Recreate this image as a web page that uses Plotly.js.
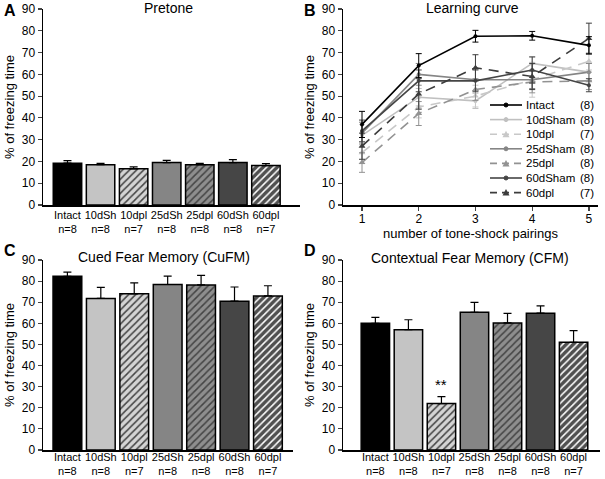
<!DOCTYPE html>
<html><head><meta charset="utf-8">
<script src="https://cdn.plot.ly/plotly-3.0.1.min.js"></script>
<style>html,body{margin:0;padding:0;background:#fff}#chart{width:605px;height:479px}</style>
</head><body><div id="chart"></div>
<script>
// ---- data ----
const groups = ["Intact","10dSh","10dpl","25dSh","25dpl","60dSh","60dpl"];
const groupN = [8,8,7,8,8,8,7];
const pretoneMean = [19.2,18.5,16.6,19.5,18.5,19.5,18.1];
const pretoneSem  = [1.2,0.6,0.9,1.0,0.6,1.3,0.9];
const cufmMean = [82.3,71.8,74.0,78.4,78.2,70.5,73.0];
const cufmSem  = [2.0,5.2,5.2,4.0,4.5,6.7,4.8];
const cfmMean = [60.0,57.0,22.0,65.2,60.2,64.8,51.0];
const cfmSem  = [2.8,4.7,3.3,4.7,4.5,3.5,5.5];

const pairings = [1,2,3,4,5];
const lcNames = ["Intact","10dSham","10dpl","25dSham","25dpl","60dSham","60dpl"];
const lcN = [8,8,7,8,8,8,7];
const lcIntact     = [37.0,64.0,77.5,77.7,73.3];
const lcIntactErr  = [6.0,5.5,2.7,2.0,4.0];
const lc10dSham    = [32.0,49.5,47.8,65.0,61.0];
const lc10dShamErr = [5.0,4.0,3.5,3.0,4.0];
const lc10dpl      = [24.0,45.0,50.0,57.5,66.0];
const lc10dplErr   = [5.0,5.0,5.0,8.0,4.0];
const lc25dSham    = [33.0,60.0,57.5,57.5,61.0];
const lc25dShamErr = [5.0,5.0,5.0,4.0,4.0];
const lc25dpl      = [19.5,42.0,53.0,56.5,57.0];
const lc25dplErr   = [4.5,5.5,5.0,5.0,4.0];
const lc60dSham    = [34.0,57.0,57.0,62.0,55.0];
const lc60dShamErr = [5.0,5.0,5.0,6.0,3.0];
const lc60dpl      = [27.0,51.0,63.0,59.0,76.5];
const lc60dplErr   = [6.0,7.0,6.0,6.0,7.0];

// ---- styles ----
const FONT = "Liberation Sans, Arial, sans-serif";
const barColors = ["#000000","#c4c4c4","#d4d4d4","#858585","#8e8e8e","#464646","#505050"];
const hatchShapes = ["","","/","","/","","/"];
const hatchFg = ["#000000","#000000","#707070","#000000","#2e2e2e","#000000","#111111"];

const tickLabels = groups.map((g,i)=> g + "<br>n=" + groupN[i]);
const zeros = groups.map(()=>0);

function bars(xa, ya, mean, sem){
  return {
    type:'bar', x:groups, y:mean, xaxis:xa, yaxis:ya, width:0.86,
    marker:{color:barColors, line:{color:'#000', width:1.5},
      pattern:{shape:hatchShapes, fgcolor:hatchFg, fgopacity:1, size:5, solidity:0.3, fillmode:'overlay'}},
    error_y:{type:'data', array:sem, arrayminus:zeros, symmetric:false, color:'#000', thickness:1.2, width:4},
    showlegend:false, hoverinfo:'skip'
  };
}

const lcSeries = [
  {y:lc10dSham, e:lc10dShamErr, color:'#c0c0c0', dash:'solid', sym:'circle'},
  {y:lc10dpl,   e:lc10dplErr,   color:'#c8c8c8', dash:'10px,7px', sym:'triangle-up'},
  {y:lc25dSham, e:lc25dShamErr, color:'#858585', dash:'solid', sym:'circle'},
  {y:lc25dpl,   e:lc25dplErr,   color:'#929292', dash:'10px,7px', sym:'triangle-up'},
  {y:lc60dSham, e:lc60dShamErr, color:'#454545', dash:'solid', sym:'circle'},
  {y:lc60dpl,   e:lc60dplErr,   color:'#3c3c3c', dash:'10px,7px', sym:'triangle-up'},
  {y:lcIntact,  e:lcIntactErr,  color:'#000000', dash:'solid', sym:'circle'}
];
const lcOrder = [1,2,3,4,5,6,0]; // index into lcNames

const traces = [
  bars('x','y',pretoneMean,pretoneSem),
  bars('x3','y3',cufmMean,cufmSem),
  bars('x4','y4',cfmMean,cfmSem)
];
lcSeries.forEach((s,k)=>{
  traces.push({type:'scatter', mode:'lines+markers', x:pairings, y:s.y, xaxis:'x2', yaxis:'y2',
    name:lcNames[lcOrder[k]],
    line:{color:s.color, width:1.6, dash:s.dash},
    marker:{color:s.color, symbol:s.sym, size:s.sym==='circle'?4:6},
    error_y:{type:'data', array:s.e, color:s.color, thickness:1, width:3},
    showlegend:false, hoverinfo:'skip'});
});

// ---- layout helpers ----
const W=605, H=479;
const px = v => v/W, py = v => 1 - v/H;

function yax(domain){
  return {domain:domain, range:[0,90], dtick:10, ticks:'outside', ticklen:4, tickwidth:1.2,
    showline:true, linewidth:1.5, linecolor:'#000', showgrid:false, zeroline:false,
    tickfont:{size:12, color:'#000'},
    title:{text:'% of freezing time', font:{size:13, color:'#000'}, standoff:4}};
}
function xcat(domain, range, anchor, tls){
  return {domain:domain, range:range, anchor:anchor, type:'category',
    tickvals:groups, ticktext:tickLabels, ticks:'', showline:true, linewidth:1.5, linecolor:'#000',
    showgrid:false, zeroline:false, tickfont:{size:11, color:'#000'}, ticklabelstandoff:tls};
}

const annotations = [
  {text:'Pretone', x:px(168), y:py(8)},
  {text:'Learning curve', x:px(472), y:py(8)},
  {text:'Cued Fear Memory (CuFM)', x:px(164), y:py(257)},
  {text:'Contextual Fear Memory (CFM)', x:px(470), y:py(258)}
].map(a=>Object.assign(a,{xref:'paper',yref:'paper',showarrow:false,xanchor:'center',yanchor:'middle',font:{size:14,color:'#000'}}));

[['A',2,10],['B',302,10],['C',2,250],['D',302,250]].forEach(([t,x,y])=>{
  annotations.push({text:'<b>'+t+'</b>', x:px(x), y:py(y), xref:'paper', yref:'paper', showarrow:false,
    xanchor:'left', yanchor:'middle', font:{size:16,color:'#000'}});
});
annotations.push({text:'**', x:'10dpl', y:31, xref:'x4', yref:'y4', showarrow:false, font:{size:15,color:'#000'}});

// custom legend for learning curve
const shapes = [];
const legendRows = [0,1,2,3,4,5,6];
legendRows.forEach(i=>{
  const k = lcOrder.indexOf(i);
  const s = lcSeries[k];
  const yy = py(105 + i*14.6);
  shapes.push({type:'line', xref:'paper', yref:'paper', x0:px(490), x1:px(522), y0:yy, y1:yy,
    line:{color:s.color, width:1.6, dash:s.dash==='solid'?'solid':'7px,5px'}});
  if(s.sym==='circle'){
    shapes.push({type:'circle', xref:'paper', yref:'paper', xsizemode:'pixel', ysizemode:'pixel',
      xanchor:px(506), yanchor:yy, x0:-2, x1:2, y0:-2, y1:2, fillcolor:s.color, line:{color:s.color,width:1}});
  } else {
    shapes.push({type:'path', xref:'paper', yref:'paper', xsizemode:'pixel', ysizemode:'pixel',
      xanchor:px(506), yanchor:yy, path:'M -3.5 -3 L 3.5 -3 L 0 3.5 Z', fillcolor:s.color, line:{color:s.color,width:0}});
  }
  annotations.push({text:lcNames[i], x:px(524), y:yy, xref:'paper', yref:'paper', showarrow:false,
    xanchor:'left', yanchor:'middle', font:{size:11.5,color:'#000'}});
  annotations.push({text:'('+lcN[i]+')', x:px(578), y:yy, xref:'paper', yref:'paper', showarrow:false,
    xanchor:'left', yanchor:'middle', font:{size:11.5,color:'#000'}});
});

const layout = {
  width:W, height:H, margin:{l:0,r:0,t:0,b:0}, paper_bgcolor:'#fff', plot_bgcolor:'rgba(0,0,0,0)',
  font:{family:FONT, color:'#000'}, showlegend:false, bargap:0,
  xaxis: xcat([px(43),px(300)], [-0.74,7.03], 'y', -1),
  yaxis: Object.assign(yax([py(205),py(9)]), {anchor:'x'}),
  xaxis2: {domain:[px(343),px(598)], range:[0.665,5.16], anchor:'y2', tickvals:pairings, ticks:'outside', ticklen:4,
    tickwidth:1.2, showline:true, linewidth:1.5, linecolor:'#000', showgrid:false, zeroline:false, ticklabelstandoff:-2,
    tickfont:{size:12,color:'#000'}, title:{text:'number of tone-shock pairings', font:{size:13,color:'#000'}, standoff:0}},
  yaxis2: Object.assign(yax([py(205),py(9)]), {anchor:'x2'}),
  xaxis3: xcat([px(43),px(293)], [-0.73,6.75], 'y3', -4),
  yaxis3: Object.assign(yax([py(450),py(260)]), {anchor:'x3'}),
  xaxis4: xcat([px(343),px(600)], [-0.98,6.8], 'y4', -4),
  yaxis4: Object.assign(yax([py(450),py(260)]), {anchor:'x4'}),
  annotations:annotations, shapes:shapes
};

Plotly.newPlot('chart', traces, layout, {staticPlot:true, displayModeBar:false});
</script>
</body></html>
